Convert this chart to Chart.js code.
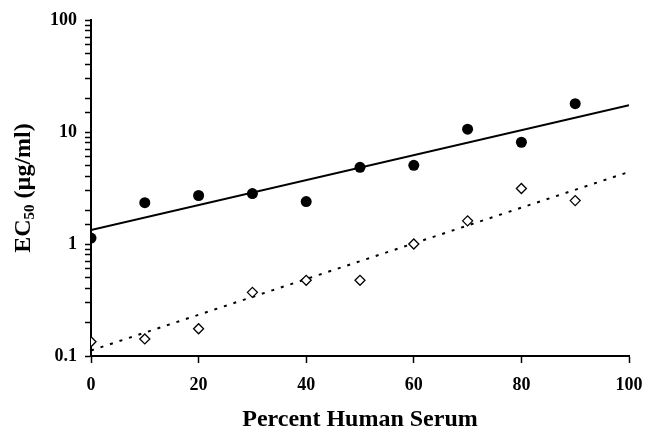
<!DOCTYPE html>
<html>
<head>
<meta charset="utf-8">
<script src="https://cdn.jsdelivr.net/npm/chart.js@4.4.0/dist/chart.umd.min.js"></script>
<style>
  html, body { margin: 0; padding: 0; background: #fff; }
  #wrap { width: 645px; height: 432px; position: relative; }
</style>
</head>
<body>
<div id="wrap"><canvas id="chart"></canvas></div>
<script>
// percent human serum
const serumPct = [0, 10, 20, 30, 40, 50, 60, 70, 80, 90];
// filled circles
const ec50Filled = [1.13, 2.34, 2.71, 2.82, 2.39, 4.84, 5.04, 10.6, 8.1, 17.9];
// open diamonds
const ec50Open = [0.134, 0.142, 0.175, 0.37, 0.474, 0.474, 1.0, 1.61, 3.13, 2.44];
// fitted lines, ends at 0 and 100 %
const fitX = [0, 100];
const fitSolid = [1.33, 17.3];
const fitDotted = [0.112, 4.4];

const xTicks = [0, 20, 40, 60, 80, 100];
const yTickLabels = ['0.1', '1', '10', '100'];

const serif = "'Liberation Serif', 'Times New Roman', serif";

const toPoints = (xs, ys) => xs.map((x, i) => ({ x: x, y: ys[i] }));

// y title with a subscript 50
const yTitlePlugin = {
  id: 'yTitle',
  afterDraw(chart) {
    const { ctx, chartArea } = chart;
    const big = 'bold 24px ' + serif;
    const small = 'bold 15px ' + serif;
    ctx.save();
    ctx.fillStyle = '#000';
    ctx.textBaseline = 'alphabetic';
    ctx.font = big;
    const wEC = ctx.measureText('EC').width;
    const wRest = ctx.measureText(' (µg/ml)').width;
    ctx.font = small;
    const wSub = ctx.measureText('50').width;
    const total = wEC + wSub + wRest;
    ctx.translate(30, (chartArea.top + chartArea.bottom) / 2);
    ctx.rotate(-Math.PI / 2);
    let x = -total / 2;
    ctx.font = big;
    ctx.fillText('EC', x, 0);
    x += wEC;
    ctx.font = small;
    ctx.fillText('50', x, 4);
    x += wSub;
    ctx.font = big;
    ctx.fillText(' (µg/ml)', x, 0);
    ctx.restore();
  }
};

new Chart(document.getElementById('chart'), {
  type: 'scatter',
  data: {
    datasets: [
      {
        label: 'filled',
        data: toPoints(serumPct, ec50Filled),
        pointStyle: 'circle',
        pointRadius: 5.5,
        backgroundColor: '#000',
        borderColor: '#000',
        borderWidth: 0,
      },
      {
        label: 'open',
        data: toPoints(serumPct, ec50Open),
        pointStyle: 'rectRot',
        pointRadius: 5,
        backgroundColor: '#fff',
        borderColor: '#000',
        borderWidth: 1.3,
      },
      {
        type: 'line',
        label: 'fit filled',
        data: toPoints(fitX, fitSolid),
        borderColor: '#000',
        borderWidth: 2,
        pointRadius: 0,
        fill: false,
      },
      {
        type: 'line',
        label: 'fit open',
        data: toPoints(fitX, fitDotted),
        borderColor: '#000',
        borderWidth: 2,
        borderDash: [3, 7],
        pointRadius: 0,
        fill: false,
      },
    ],
  },
  options: {
    responsive: true,
    maintainAspectRatio: false,
    animation: false,
    layout: { padding: { top: 20, right: 16, left: 0, bottom: 0 } },
    plugins: {
      legend: { display: false },
      tooltip: { enabled: false },
    },
    scales: {
      x: {
        type: 'linear',
        min: 0,
        max: 100,
        afterBuildTicks: (scale) => {
          scale.ticks = xTicks.map(v => ({ value: v }));
        },
        afterFit: (scale) => {
          scale.height = 76;
          scale.paddingLeft = 0;
          scale.paddingRight = 0;
        },
        ticks: {
          color: '#000',
          padding: 12,
          font: { family: serif, size: 18, weight: 'bold' },
        },
        grid: {
          drawOnChartArea: false,
          drawTicks: true,
          tickLength: 7,
          tickColor: '#000',
          tickWidth: 1.5,
        },
        border: { display: true, color: '#000', width: 2 },
        title: {
          display: true,
          text: 'Percent Human Serum',
          color: '#000',
          padding: { top: 0, bottom: 0 },
          font: { family: serif, size: 24, weight: 'bold', lineHeight: 1 },
        },
      },
      y: {
        type: 'logarithmic',
        min: 0.1,
        max: 100,
        afterFit: (scale) => {
          scale.width = 91;
          scale.paddingTop = 0;
          scale.paddingBottom = 0;
        },
        ticks: {
          color: '#000',
          padding: 8,
          autoSkip: false,
          font: { family: serif, size: 18, weight: 'bold' },
          callback: (value) => {
            const l = Math.log10(value);
            const r = Math.round(l);
            if (Math.abs(l - r) < 1e-6) return yTickLabels[r + 1];
            return '';
          },
        },
        grid: {
          drawOnChartArea: false,
          drawTicks: true,
          tickLength: 6,
          tickColor: '#000',
          tickWidth: 1.5,
        },
        border: { display: true, color: '#000', width: 2 },
      },
    },
  },
  plugins: [yTitlePlugin],
});
</script>
</body>
</html>
